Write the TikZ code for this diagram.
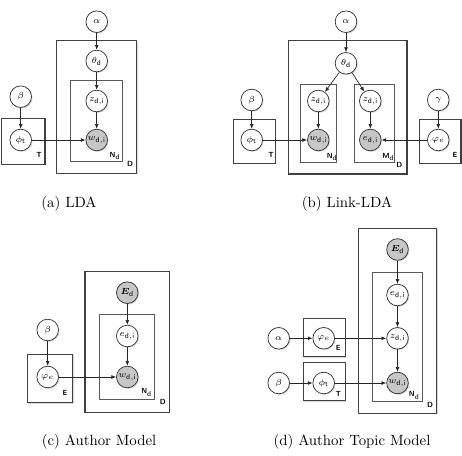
\documentclass[tikz,border=0pt]{standalone}
\usepackage{bm}
\usetikzlibrary{arrows.meta,shadows}

\tikzset{
  var/.style={circle,draw=black!80,line width=0.5pt,fill=white,minimum size=14.6pt,inner sep=0pt,
    font=\fontsize{6}{7}\selectfont,drop shadow={shadow xshift=0.7pt,shadow yshift=-0.7pt,opacity=0.3}},
  obs/.style={var,fill=black!22},
  plate/.style={draw=black!75,line width=0.7pt,fill=white,
    drop shadow={shadow xshift=0.8pt,shadow yshift=-0.8pt,opacity=0.3}},
  inplate/.style={draw=black!65,line width=0.5pt},
  platelbl/.style={font=\tiny\sffamily\bfseries,inner sep=0pt,anchor=mid},
  edge/.style={-{Latex[length=3.2pt,width=2.6pt]},line width=0.45pt,black!85},
  caption/.style={font=\normalsize,inner sep=0pt}
}

\begin{document}
\begin{tikzpicture}[x=0.675pt,y=0.675pt,yscale=-1,xscale=1]
\useasboundingbox (0,0) rectangle (462,456);

%Panel (a): LDA
\draw[plate] (56.7,40.7) rectangle (136.7,173.3);
\draw[inplate] (70,80.7) rectangle (122.3,161.3);
\draw[plate] (1.7,118.3) rectangle (45,164.3);
\node[var] (alphaA) at (96.7,21.7) {$\alpha$};
\node[var] (thetaA) at (96.7,61) {$\theta_{\mathsf{d}}$};
\node[var] (zA) at (96.7,101) {$z_{\mathsf{d,i}}$};
\node[obs] (wA) at (96.7,140) {$w_{\mathsf{d,i}}$};
\node[var] (betaA) at (20.7,96.7) {$\beta$};
\node[var] (phiA) at (20.7,140) {$\phi_{\mathsf{t}}$};
\node[platelbl] (lblTA) at (39,154.3) {T};
\node[platelbl] (lblNA) at (115,154) {N$_{\mathsf{d}}$};
\node[platelbl] (lblDA) at (130,163.3) {D};
\draw[edge] (alphaA) -- (thetaA);
\draw[edge] (thetaA) -- (zA);
\draw[edge] (zA) -- (wA);
\draw[edge] (betaA) -- (phiA);
\draw[edge] (phiA) -- (wA);
\node[caption] (capA) at (69,203.3) {(a)\ LDA};

%Panel (b): Link-LDA
\draw[plate] (288.7,40.7) rectangle (407,174);
\draw[inplate] (300,84.3) rectangle (336.7,162.3);
\draw[inplate] (354.3,84.3) rectangle (394.3,162.3);
\draw[plate] (233.7,119.3) rectangle (275.3,163.3);
\draw[plate] (419.7,119.3) rectangle (461,163.3);
\node[var] (alphaB) at (346,21.7) {$\alpha$};
\node[var] (thetaB) at (346,63.3) {$\theta_{\mathsf{d}}$};
\node[var] (zB) at (318.3,101) {$z_{\mathsf{d,i}}$};
\node[obs] (wB) at (318.3,140) {$w_{\mathsf{d,i}}$};
\node[var] (zzB) at (370.3,101) {$z_{\mathsf{d,i}}$};
\node[obs] (eB) at (370.3,140) {$e_{\mathsf{d,i}}$};
\node[var] (betaB) at (251.7,100) {$\beta$};
\node[var] (phitB) at (251.7,140) {$\phi_{\mathsf{t}}$};
\node[var] (gammaB) at (438.3,100) {$\gamma$};
\node[var] (phieB) at (438.3,140) {$\varphi_{e}$};
\node[platelbl] (lblTB) at (271,154) {T};
\node[platelbl] (lblNB) at (332.2,155) {N$_{\mathsf{d}}$};
\node[platelbl] (lblMB) at (388.5,155) {M$_{\mathsf{d}}$};
\node[platelbl] (lblDB) at (399.3,164.3) {D};
\node[platelbl] (lblEB) at (455,154.3) {E};
\draw[edge] (alphaB) -- (thetaB);
\draw[edge] (thetaB) -- (zB);
\draw[edge] (thetaB) -- (zzB);
\draw[edge] (zB) -- (wB);
\draw[edge] (zzB) -- (eB);
\draw[edge] (betaB) -- (phitB);
\draw[edge] (phitB) -- (wB);
\draw[edge] (gammaB) -- (phieB);
\draw[edge] (phieB) -- (eB);
\node[caption] (capB) at (347,203.3) {(b)\ Link-LDA};

%Panel (c): Author Model
\draw[plate] (85,271.7) rectangle (169.3,412.3);
\draw[inplate] (99.3,314.3) rectangle (154.3,399);
\draw[plate] (27.3,354.3) rectangle (72.7,402.7);
\node[obs] (EdC) at (127.3,292.7) {$\bm{E}_{\mathsf{d}}$};
\node[var] (eC) at (127.3,336) {$e_{\mathsf{d,i}}$};
\node[obs] (wC) at (127.3,377) {$w_{\mathsf{d,i}}$};
\node[var] (betaC) at (47.7,330) {$\beta$};
\node[var] (phiC) at (47.7,377) {$\varphi_{e}$};
\node[platelbl] (lblEC) at (65,392.7) {E};
\node[platelbl] (lblNC) at (146.7,390.5) {N$_{\mathsf{d}}$};
\node[platelbl] (lblDC) at (162.7,401.7) {D};
\draw[edge] (EdC) -- (eC);
\draw[edge] (eC) -- (wC);
\draw[edge] (betaC) -- (phiC);
\draw[edge] (phiC) -- (wC);
\node[caption] (capC) at (99,441.7) {(c)\ Author Model};

%Panel (d): Author Topic Model
\draw[plate] (358.5,228.3) rectangle (436.5,413.3);
\draw[inplate] (372.7,272.3) rectangle (422.7,401.7);
\draw[plate] (303.3,318.3) rectangle (345.3,356.7);
\draw[plate] (303.3,362.7) rectangle (345.3,400.7);
\node[obs] (EdD) at (397.5,249.5) {$\bm{E}_{\mathsf{d}}$};
\node[var] (eD) at (397.5,295) {$e_{\mathsf{d,i}}$};
\node[var] (zD) at (397.5,338.3) {$z_{\mathsf{d,i}}$};
\node[obs] (wD) at (397.5,383) {$w_{\mathsf{d,i}}$};
\node[var] (alphaD) at (278.7,338.3) {$\alpha$};
\node[var] (phieD) at (323.7,338.3) {$\varphi_{e}$};
\node[var] (betaD) at (278.7,383) {$\beta$};
\node[var] (phitD) at (323.7,383) {$\phi_{\mathsf{t}}$};
\node[platelbl] (lblED) at (338.3,347.3) {E};
\node[platelbl] (lblTD) at (338.3,393.3) {T};
\node[platelbl] (lblND) at (414.3,393.8) {N$_{\mathsf{d}}$};
\node[platelbl] (lblDD) at (430,404) {D};
\draw[edge] (EdD) -- (eD);
\draw[edge] (eD) -- (zD);
\draw[edge] (zD) -- (wD);
\draw[edge] (alphaD) -- (phieD);
\draw[edge] (phieD) -- (zD);
\draw[edge] (betaD) -- (phitD);
\draw[edge] (phitD) -- (wD);
\node[caption] (capD) at (352,441.7) {(d)\ Author Topic Model};
\end{tikzpicture}
\end{document}
